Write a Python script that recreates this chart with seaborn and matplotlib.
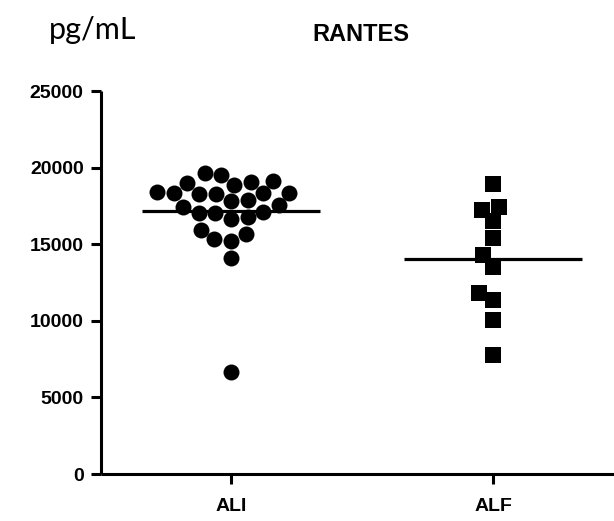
import matplotlib
matplotlib.use("Agg")
import matplotlib.pyplot as plt
import seaborn as sns
import pandas as pd
import numpy as np

# values (pg/mL)
groups = ["ALI", "ALF"]
ali_values = [19520, 19630, 19080, 18860, 18980, 19150, 18360, 18320, 18260,
              17840, 17450, 17120, 17560, 17890, 18260, 18320, 18430, 17020,
              16630, 16760, 17020, 15670, 15230, 15930, 15320, 14080, 6660]
alf_values = [18930, 17450, 17230, 16530, 15390, 14300, 13530, 11800, 11360,
              10050, 7770]
y_ticks = [0, 5000, 10000, 15000, 20000, 25000]

df = pd.DataFrame({
    "group": ["ALI"] * len(ali_values) + ["ALF"] * len(alf_values),
    "value": ali_values + alf_values,
})

sns.set_style("ticks", {"axes.edgecolor": "black", "text.color": "black",
                        "xtick.color": "black", "ytick.color": "black"})
plt.rcParams["font.family"] = ["Liberation Sans", "DejaVu Sans"]

fig = plt.figure(figsize=(6.14, 5.21), dpi=100)
ax = fig.add_axes([0.1645, 0.0902, 0.8355, 0.7351])

sns.swarmplot(data=df[df.group == "ALI"], x="group", y="value", order=groups,
              marker="o", size=11.5, color="black", linewidth=0, ax=ax)
sns.swarmplot(data=df[df.group == "ALF"], x="group", y="value", order=groups,
              marker="s", size=11, color="black", linewidth=0, ax=ax)

# mean lines
for i, g in enumerate(groups):
    m = df[df.group == g].value.mean()
    ax.hlines(m, i - 0.34, i + 0.34, color="black", lw=2.3, zorder=5)

ax.set_xlim(-0.496, 1.462)
ax.set_ylim(0, 25000)
ax.set_yticks(y_ticks)
ax.set_yticklabels([str(t) for t in y_ticks])
ax.set_xlabel("")
ax.set_ylabel("")

sns.despine(ax=ax)
for s in ["left", "bottom"]:
    ax.spines[s].set_linewidth(2.2)
    ax.spines[s].set_color("black")
    ax.spines[s].set_capstyle("butt")
ax.tick_params(axis="both", length=7.5, width=2.2, colors="black")
ax.tick_params(axis="y", pad=5)
ax.tick_params(axis="x", pad=10)
for lab in ax.get_yticklabels() + ax.get_xticklabels():
    lab.set_fontweight("bold")
    lab.set_fontsize(14)
    lab.set_color("black")

fig.text(0.080, 0.942, "pg/mL", fontsize=22, family=["Lato", "DejaVu Sans"],
         ha="left", va="center", color="black")
fig.text(0.587, 0.933, "RANTES", fontsize=17, fontweight="bold",
         ha="center", va="center", color="black")

fig.savefig("out.png", dpi=100)
